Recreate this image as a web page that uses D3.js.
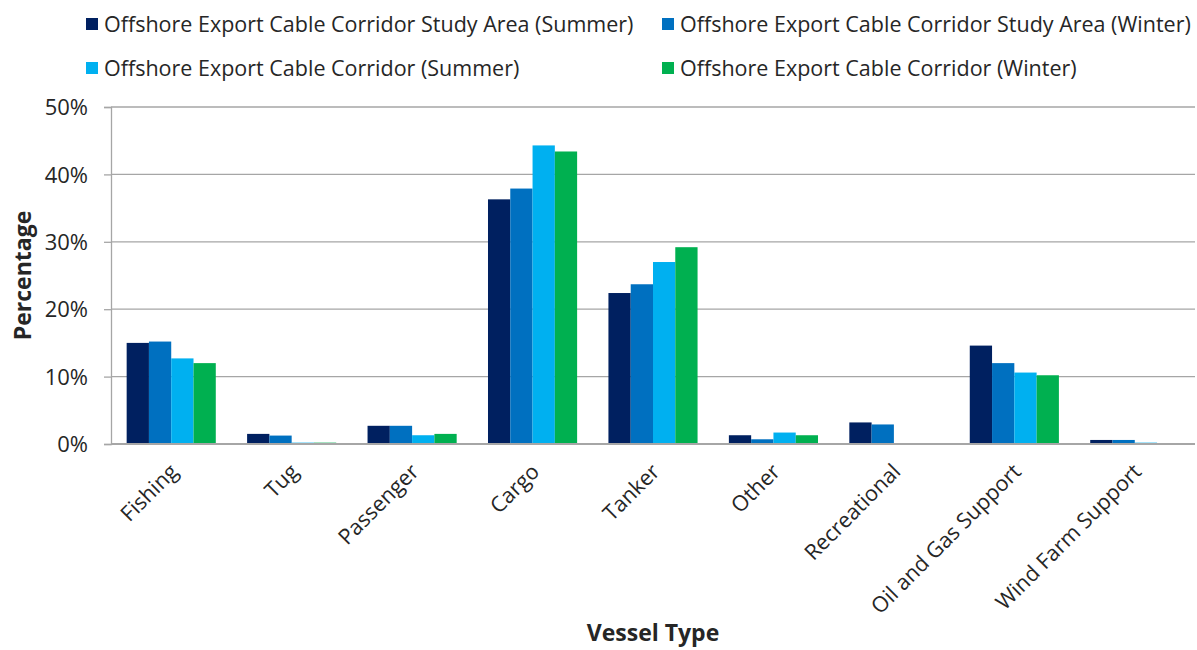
<!DOCTYPE html>
<html><head><meta charset="utf-8">
<script src="https://cdn.jsdelivr.net/npm/d3@7"></script>
<style>body{margin:0;background:#fff}svg{display:block}text{font-family:"Open Sans","Noto Sans",sans-serif;fill:#262626}</style>
</head><body>
<svg id="c" width="1197" height="650"></svg>
<script>
const categories = ["Fishing","Tug","Passenger","Cargo","Tanker","Other","Recreational","Oil and Gas Support","Wind Farm Support"];
const seriesNames = ["Offshore Export Cable Corridor Study Area (Summer)","Offshore Export Cable Corridor Study Area (Winter)","Offshore Export Cable Corridor (Summer)","Offshore Export Cable Corridor (Winter)"];
const studySummer = [15.0, 1.5, 2.7, 36.3, 22.4, 1.3, 3.2, 14.6, 0.6];
const studyWinter = [15.2, 1.25, 2.7, 37.9, 23.7, 0.7, 2.9, 12.0, 0.6];
const corridorSummer = [12.7, 0.2, 1.3, 44.3, 27.0, 1.7, 0.0, 10.6, 0.2];
const corridorWinter = [12.0, 0.2, 1.5, 43.4, 29.2, 1.3, 0.0, 10.2, 0.0];
const colors = ["#002060","#0070C0","#00B0F0","#00B050"];
const yTicks = [0,10,20,30,40,50];

const series = [studySummer, studyWinter, corridorSummer, corridorWinter];
const svg = d3.select("#c");
const L = 111, R = 1195, T = 107, B = 444;

const x0 = d3.scaleBand().domain(categories).range([L, R]).paddingInner(0.26).paddingOuter(0.13);
const x1 = d3.scaleBand().domain(d3.range(4)).range([0, x0.bandwidth()]);
const y = d3.scaleLinear().domain([0, 50]).range([B, T]);

// gridlines
svg.append("g").selectAll("line").data(yTicks.filter(d=>d>0)).join("line")
  .attr("x1", L).attr("x2", R).attr("y1", d=>y(d)).attr("y2", d=>y(d))
  .attr("stroke", "#a6a6a6").attr("stroke-width", 1.3);

// y axis
const yAxis = svg.append("g").attr("transform", `translate(${L},0)`)
  .call(d3.axisLeft(y).tickValues(yTicks).tickFormat(d=>d+"%").tickSize(7).tickPadding(16));
yAxis.select(".domain").attr("stroke", "#a6a6a6").attr("stroke-width", 1.3);
yAxis.selectAll(".tick line").attr("stroke", "#a6a6a6").attr("stroke-width", 1.3);
yAxis.selectAll(".tick text").style("font-size", "22px").attr("fill", "#262626").attr("font-family", '"Open Sans",sans-serif').attr("dy", "0.35em");

// bars
const groups = svg.append("g").selectAll("g").data(categories).join("g")
  .attr("transform", d=>`translate(${x0(d)},0)`);
groups.selectAll("rect").data((c,i)=>series.map((s,k)=>({k, v:s[i]}))).join("rect")
  .attr("x", d=>x1(d.k)).attr("width", x1.bandwidth())
  .attr("y", d=>y(d.v)).attr("height", d=>B - y(d.v))
  .attr("fill", d=>colors[d.k]);

// x axis
const xAxis = svg.append("g").attr("transform", `translate(0,${B})`)
  .call(d3.axisBottom(x0).tickSize(0).tickPadding(0));
xAxis.select(".domain").attr("stroke", "#a6a6a6").attr("stroke-width", 2).attr("d", `M${L},0H${R}`);
xAxis.selectAll(".tick text")
  .style("font-size", "21.5px").attr("fill", "#262626").attr("font-family", '"Open Sans",sans-serif')
  .attr("text-anchor", "end").attr("dy", 0)
  .attr("transform", "translate(8,29) rotate(-45)");

// axis titles
svg.append("text").attr("transform", `translate(31,${(T+B)/2}) rotate(-90)`)
  .attr("text-anchor", "middle").style("font-size", "23px").style("font-weight", "bold").text("Percentage");
svg.append("text").attr("x", (L+R)/2).attr("y", 641)
  .attr("text-anchor", "middle").style("font-size", "23px").style("font-weight", "bold").text("Vessel Type");

// legend
const legPos = [[86,24],[662,24],[86,68],[662,68]];
const leg = svg.append("g").selectAll("g").data(seriesNames).join("g")
  .attr("transform", (d,i)=>`translate(${legPos[i][0]},${legPos[i][1]})`);
leg.append("rect").attr("x", 0).attr("y", -6).attr("width", 12).attr("height", 12).attr("fill", (d,i)=>colors[i]);
leg.append("text").attr("x", 18).attr("y", 0).attr("dy", "0.35em").style("font-size", "21.5px").text(d=>d);
</script>
</body></html>
